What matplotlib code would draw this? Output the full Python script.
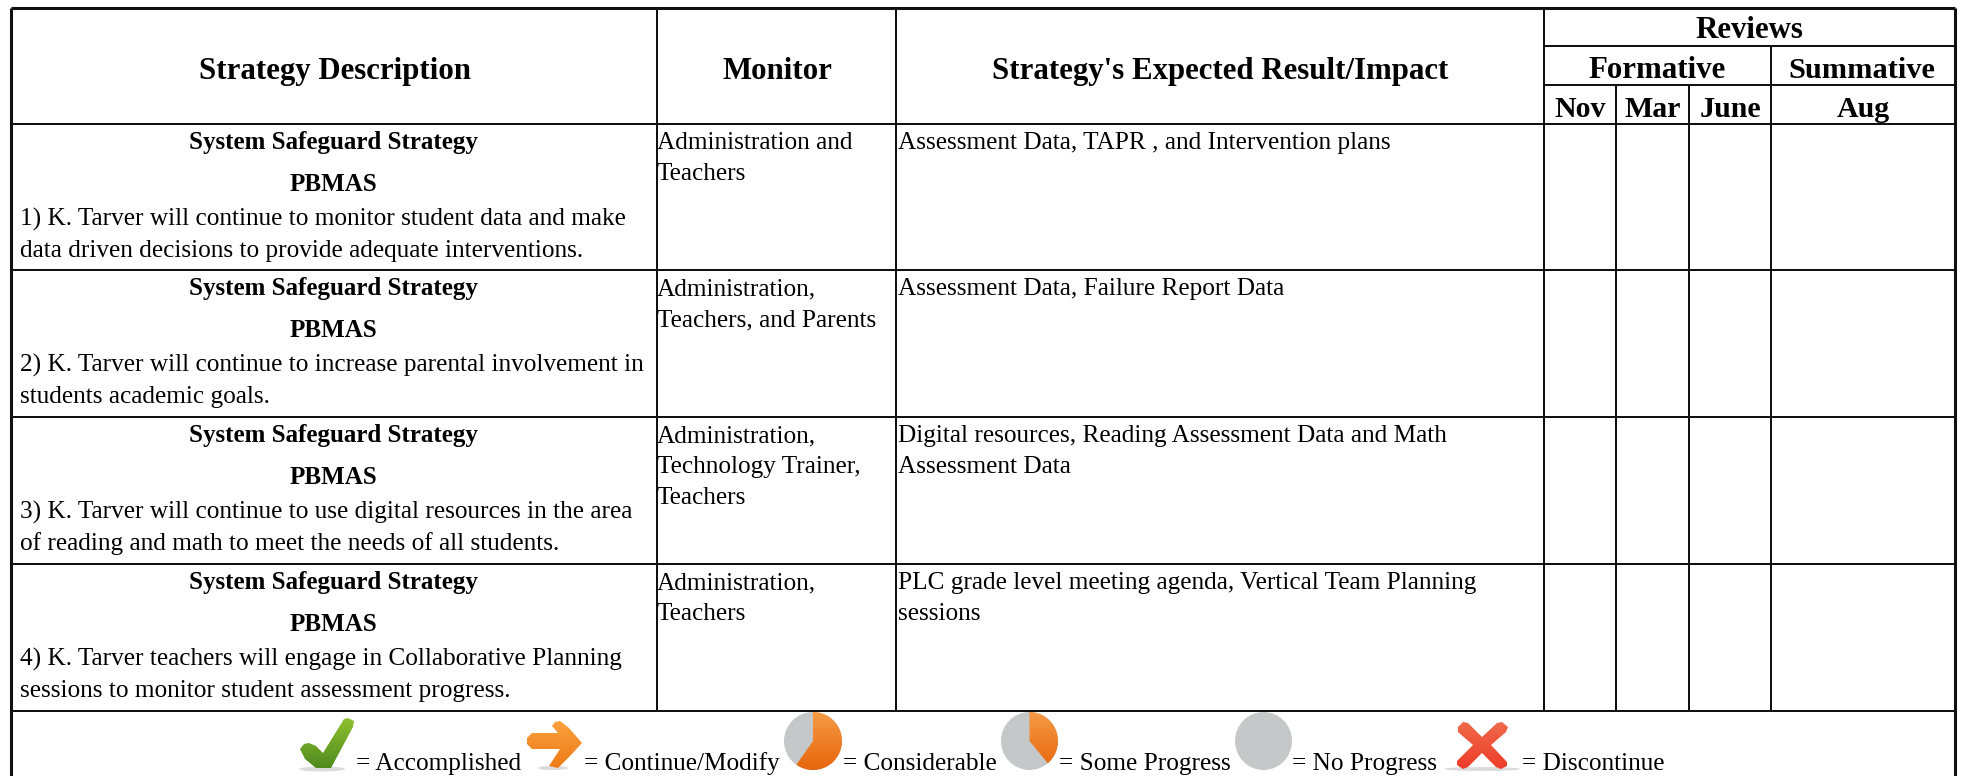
import numpy as np
import matplotlib
matplotlib.use("Agg")
import matplotlib.pyplot as plt
from matplotlib.patches import Ellipse, PathPatch
from matplotlib.path import Path
from matplotlib.colors import LinearSegmentedColormap

W, H = 1961, 776
headers = ["Strategy Description", "Monitor", "Strategy's Expected Result/Impact"]
review_title = "Reviews"
review_groups = ["Formative", "Summative"]
review_months = ["Nov", "Mar", "June", "Aug"]
strategy_title = "System Safeguard Strategy"
strategy_sub = "PBMAS"
strategy_lines = [
    ["1) K. Tarver will continue to monitor student data and make", "data driven decisions to provide adequate interventions."],
    ["2) K. Tarver will continue to increase parental involvement in", "students academic goals."],
    ["3) K. Tarver will continue to use digital resources in the area", "of reading and math to meet the needs of all students."],
    ["4) K. Tarver teachers will engage in Collaborative Planning", "sessions to monitor student assessment progress."],
]
monitors = [
    ["Administration and", "Teachers"],
    ["Administration,", "Teachers, and Parents"],
    ["Administration,", "Technology Trainer,", "Teachers"],
    ["Administration,", "Teachers"],
]
impacts = [
    ["Assessment Data, TAPR , and Intervention plans"],
    ["Assessment Data, Failure Report Data"],
    ["Digital resources, Reading Assessment Data and Math", "Assessment Data"],
    ["PLC grade level meeting agenda, Vertical Team Planning", "sessions"],
]
legend_labels = ["= Accomplished", "= Continue/Modify", "= Considerable", "= Some Progress", "= No Progress", "= Discontinue"]
legend_x = [356, 584, 843, 1059, 1292, 1522]

X = [11, 657, 896, 1544, 1616, 1689, 1771, 1955]
Y = [8, 124, 270, 417, 564, 711]

plt.rcParams['font.family'] = ['Liberation Serif', 'DejaVu Serif']
fig = plt.figure(figsize=(W / 100, H / 100), dpi=100)
ax = fig.add_axes([0, 0, 1, 1])
ax.axis('off')

LW = 2 * 72 / 100
INK = '#111111'
def hl(x0, x1, y, lw=LW):
    ax.plot([x0, x1], [y, y], color=INK, lw=lw, solid_capstyle='butt')
def vl(x, y0, y1, lw=LW):
    ax.plot([x, x], [y0, y1], color=INK, lw=lw, solid_capstyle='butt')

hl(X[0], X[-1], Y[0], 2.2)
for y in Y[1:]:
    hl(X[0], X[-1], y)
hl(X[3], X[-1], 46)
hl(X[3], X[-1], 85)
vl(X[0], Y[0], H, 2.2)
vl(X[-1], Y[0], H, 2.2)
for x in X[1:4]:
    vl(x, Y[0], Y[-1])
for x in X[4:6]:
    vl(x, 85, Y[-1])
vl(X[6], 46, Y[-1])

BODY = 18.2
BOLD = 18.0
HEAD = 22.2
MONTH = 21.5
def t(x, y, s, size=BODY, weight='normal', ha='left'):
    ax.text(x, y, s, fontsize=size, fontweight=weight, ha=ha, va='baseline', color='black')

for cx, s in zip([(X[0] + X[1]) / 2 + 1, (X[1] + X[2]) / 2 + 1, (X[2] + X[3]) / 2], headers):
    t(cx, 79, s, HEAD, 'bold', 'center')
t((X[3] + X[-1]) / 2, 38, review_title, HEAD, 'bold', 'center')
t((X[3] + X[6]) / 2, 78, review_groups[0], HEAD, 'bold', 'center')
t((X[6] + X[7]) / 2 - 1, 78, review_groups[1], 21.9, 'bold', 'center')
for i, m in enumerate(review_months):
    t((X[3 + i] + X[4 + i]) / 2, 117, m, MONTH, 'bold', 'center')

for r in range(4):
    top = Y[r + 1]
    cx = (X[0] + X[1]) / 2 - 1
    t(cx, top + 25, strategy_title, BOLD, 'bold', 'center')
    t(cx, top + 67, strategy_sub, BOLD, 'bold', 'center')
    t(20, top + 102, strategy_lines[r][0])
    t(20, top + 133, strategy_lines[r][1])
    for j, s in enumerate(monitors[r]):
        t(X[1] + 0, top + 25 + j * 31, s)
    for j, s in enumerate(impacts[r]):
        t(X[2] + 2, top + 25 + j * 31, s)

for x, s in zip(legend_x, legend_labels):
    t(x, 770, s)

def grad(x0, x1, y0, y1, c_top, c_bot, clip):
    cmap = LinearSegmentedColormap.from_list('g', [c_top, c_bot])
    im = ax.imshow(np.linspace(0, 1, 64)[:, None], cmap=cmap, extent=(x0, x1, y1, y0),
                   aspect='auto', zorder=3, interpolation='bilinear')
    clip.set_transform(ax.transData)
    im.set_clip_path(clip)

def shadow(cx, cy, w, h):
    ax.add_patch(Ellipse((cx, cy), w, h, color='#c9cdd0', alpha=.7, lw=0, zorder=2))

def stroke_path(pts):
    pts = list(pts) + [pts[0]]
    return Path(pts, [Path.MOVETO] + [Path.LINETO] * (len(pts) - 2) + [Path.CLOSEPOLY])

# check mark
shadow(322, 769, 46, 5)
grad(300, 354, 718, 769, '#8fc02f', '#4f8a1e',
     PathPatch(stroke_path([(300, 749), (304, 744), (309, 743), (316, 746), (323, 753), (344, 719), (348, 718), (354, 721),
                            (353, 727), (331, 768), (316, 768), (305, 759)]), lw=0))
# arrow
shadow(553, 768, 30, 4)
grad(527, 583, 721, 769, '#f9a13f', '#ee7a14',
     PathPatch(stroke_path([(527, 738), (532, 733), (558, 733), (552, 726), (555, 722), (560, 721), (569, 728),
                            (582, 743), (570, 756), (558, 768), (549, 766), (560, 749), (532, 749), (527, 744)]), lw=0))

def pie(x0, x1, y0, y1, a_end):
    cx, cy, rx, ry = (x0 + x1) / 2, (y0 + y1) / 2, (x1 - x0) / 2, (y1 - y0) / 2
    ax.add_patch(Ellipse((cx, cy), x1 - x0, y1 - y0, fc='#c6c7c9', ec='none', zorder=2.5))
    if a_end > 0:
        a = np.radians(np.linspace(0, a_end, 60))
        pts = [(cx, cy)] + list(zip(cx + rx * np.sin(a), cy - ry * np.cos(a)))
        grad(x0, x1, y0, y1, '#f59a45', '#e8660c', PathPatch(stroke_path(pts), lw=0))

pie(784, 842, 712, 770, 215)
pie(1001, 1058, 712, 770, 140)
pie(1235, 1292, 712, 770, 0)

# cross
shadow(1482, 769, 76, 4)
grad(1457, 1508, 722, 769, '#ef6a4a', '#ee3c2a',
     PathPatch(stroke_path([(1458, 727), (1463, 722), (1468, 723), (1482, 737), (1497, 723), (1502, 722), (1508, 727),
                            (1506, 732), (1491, 745), (1507, 762), (1507, 766), (1501, 769), (1496, 767), (1482, 753),
                            (1468, 767), (1463, 769), (1457, 765), (1457, 761), (1473, 745), (1458, 732)]), lw=0))

ax.set_xlim(0, W)
ax.set_ylim(H, 0)
fig.savefig('out.png', dpi=100, facecolor='white')
